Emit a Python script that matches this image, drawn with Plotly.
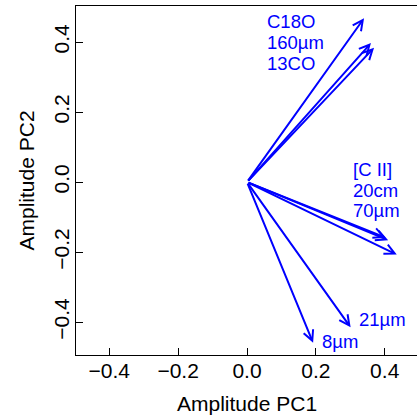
import plotly.graph_objects as go

# Variable loadings (arrow tips)
variables = ["C18O", "160µm", "13CO", "[C II]", "20cm", "70µm", "21µm", "8µm"]
pc1 = [0.340, 0.360, 0.369, 0.403, 0.410, 0.435, 0.301, 0.192]
pc2 = [0.468, 0.397, 0.384, -0.159, -0.166, -0.207, -0.415, -0.459]

# Label anchor positions (data coordinates, left-aligned)
label_x = [0.053, 0.053, 0.053, 0.301, 0.301, 0.301, 0.319, 0.211]
label_y = [0.460, 0.400, 0.340, 0.037, -0.023, -0.080, -0.394, -0.456]

tick_vals = [-0.4, -0.2, 0.0, 0.2, 0.4]

FONT = "Liberation Sans, Arial, Helvetica, sans-serif"
BLUE = "#0000FF"

fig = go.Figure()
fig.add_trace(go.Scatter(x=pc1, y=pc2, mode="markers",
                         marker=dict(opacity=0), hoverinfo="skip",
                         showlegend=False))

annotations = []
for xv, yv in zip(pc1, pc2):
    annotations.append(dict(
        x=xv, y=yv, xref="x", yref="y", ax=0, ay=0, axref="x", ayref="y",
        text="", showarrow=True, arrowhead=5, arrowsize=1.0, arrowwidth=2,
        arrowcolor=BLUE, standoff=0, startstandoff=0))
for name, lx, ly in zip(variables, label_x, label_y):
    annotations.append(dict(
        x=lx, y=ly, xref="x", yref="y", text=name, showarrow=False,
        xanchor="left", yanchor="middle",
        font=dict(family=FONT, size=18.5, color=BLUE)))

annotations.append(dict(text="Amplitude PC1", xref="paper", yref="paper",
                        x=0.5, y=(355 - 403) / 349, xanchor="center",
                        yanchor="middle", showarrow=False,
                        font=dict(family=FONT, size=21, color="black")))
annotations.append(dict(text="Amplitude PC2", xref="paper", yref="paper",
                        x=(26 - 76) / 341, y=0.5, xanchor="center",
                        yanchor="middle", textangle=-90, showarrow=False,
                        font=dict(family=FONT, size=21, color="black")))

axis_common = dict(showgrid=False, zeroline=False, showline=True,
                   linecolor="black", linewidth=1, ticks="inside",
                   ticklen=7, tickwidth=1, tickcolor="black",
                   tickvals=tick_vals, tickformat=".1f",
                   tickfont=dict(family=FONT, size=21, color="black"))

fig.update_layout(
    width=417, height=419,
    margin=dict(l=76, r=0, t=6, b=64),
    paper_bgcolor="white", plot_bgcolor="white",
    xaxis=dict(range=[-0.4967, 0.4938], mirror=True,
               ticklabelstandoff=-3, **axis_common),
    yaxis=dict(range=[-0.494, 0.503], mirror=False, tickangle=-90,
               ticklabelstandoff=-2, **axis_common),
    annotations=annotations,
    showlegend=False,
)

fig.write_html("out.html", config={"displayModeBar": False},
               post_script="document.body.style.margin='0';"
                           "document.body.style.overflow='hidden';")
